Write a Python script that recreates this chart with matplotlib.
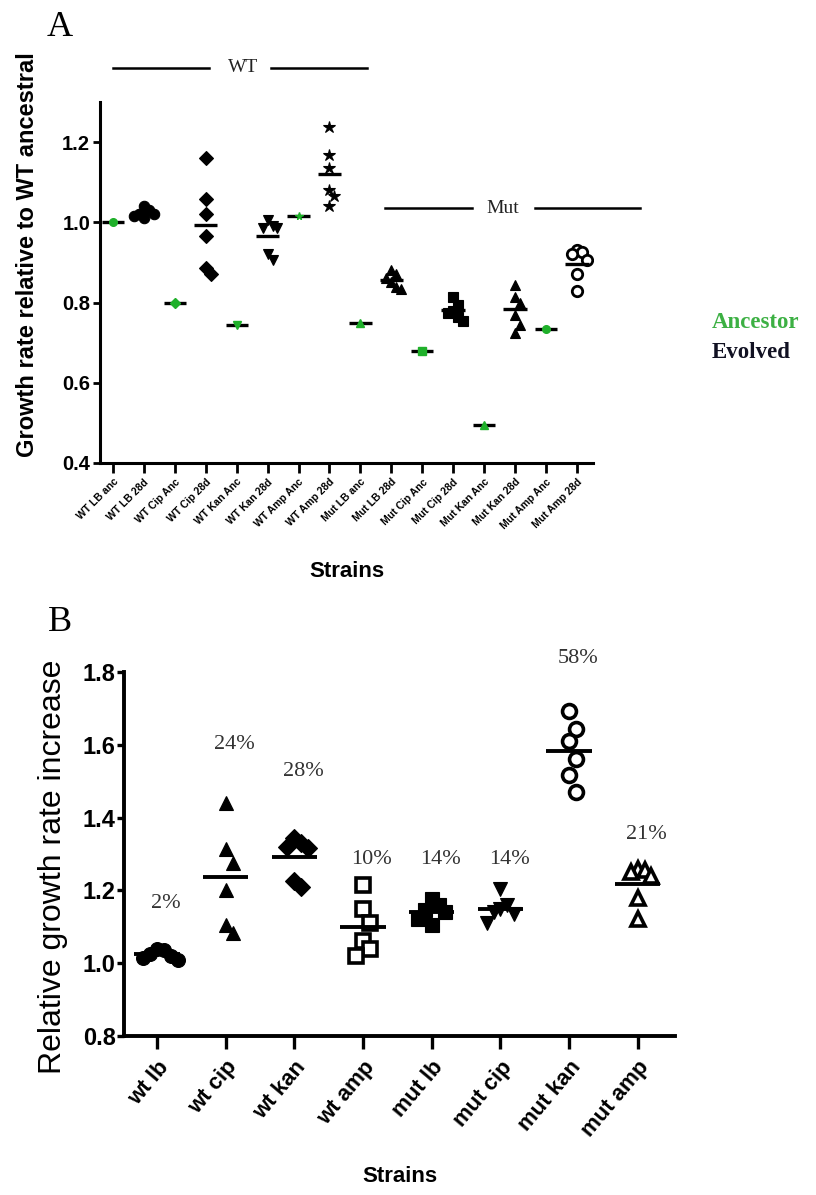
import matplotlib
matplotlib.use("Agg")
import matplotlib.pyplot as plt
import numpy as np

# ---------------- Data: panel A ----------------
a_labels = ["WT LB anc", "WT LB 28d", "WT Cip Anc", "WT Cip 28d", "WT Kan Anc", "WT Kan 28d",
            "WT Amp Anc", "WT Amp 28d", "Mut LB anc", "Mut LB 28d", "Mut Cip Anc", "Mut Cip 28d",
            "Mut Kan Anc", "Mut Kan 28d", "Mut Amp Anc", "Mut Amp 28d"]
wt_lb_anc = [1.00]
wt_lb_28d = [1.04, 1.03, 1.02, 1.02, 1.01, 1.015]
wt_cip_anc = [0.80]
wt_cip_28d = [1.16, 1.057, 1.022, 0.967, 0.885, 0.872]
wt_kan_anc = [0.745]
wt_kan_28d = [1.005, 0.99, 0.985, 0.985, 0.92, 0.905]
wt_amp_anc = [1.017]
wt_amp_28d = [1.238, 1.168, 1.135, 1.08, 1.065, 1.04]
mut_lb_anc = [0.75]
mut_lb_28d = [0.88, 0.87, 0.86, 0.85, 0.84, 0.835]
mut_cip_anc = [0.68]
mut_cip_28d = [0.815, 0.795, 0.78, 0.775, 0.765, 0.755]
mut_kan_anc = [0.495]
mut_kan_28d = [0.845, 0.815, 0.80, 0.77, 0.745, 0.725]
mut_amp_anc = [0.735]
mut_amp_28d = [0.93, 0.925, 0.92, 0.905, 0.87, 0.83]
a_groups = [wt_lb_anc, wt_lb_28d, wt_cip_anc, wt_cip_28d, wt_kan_anc, wt_kan_28d,
            wt_amp_anc, wt_amp_28d, mut_lb_anc, mut_lb_28d, mut_cip_anc, mut_cip_28d,
            mut_kan_anc, mut_kan_28d, mut_amp_anc, mut_amp_28d]
a_ancestor = [True, False] * 8
a_markers = ["o", "o", "D", "D", "v", "v", "*", "*", "^", "^", "s", "s", "^", "^", "o", "o"]
a_open = [False] * 15 + [True]

# ---------------- Data: panel B ----------------
b_labels = ["wt lb", "wt cip", "wt kan", "wt amp", "mut lb", "mut cip", "mut kan", "mut amp"]
b_wt_lb = [1.04, 1.035, 1.025, 1.02, 1.015, 1.01]
b_wt_cip = [1.44, 1.314, 1.276, 1.20, 1.105, 1.083]
b_wt_kan = [1.345, 1.33, 1.32, 1.315, 1.225, 1.21]
b_wt_amp = [1.215, 1.15, 1.11, 1.06, 1.04, 1.02]
b_mut_lb = [1.175, 1.16, 1.145, 1.14, 1.12, 1.105]
b_mut_cip = [1.205, 1.16, 1.15, 1.14, 1.135, 1.11]
b_mut_kan = [1.692, 1.643, 1.61, 1.56, 1.518, 1.469]
b_mut_amp = [1.26, 1.255, 1.25, 1.24, 1.18, 1.12]
b_groups = [b_wt_lb, b_wt_cip, b_wt_kan, b_wt_amp, b_mut_lb, b_mut_cip, b_mut_kan, b_mut_amp]
b_pct = ["2%", "24%", "28%", "10%", "14%", "14%", "58%", "21%"]
b_pct_y = [1.165, 1.60, 1.527, 1.284, 1.284, 1.284, 1.836, 1.353]
b_markers = ["o", "^", "D", "s", "s", "v", "o", "^"]
b_open = [False, False, False, True, False, False, True, True]

GREEN = "#1fb02a"


def swarm(vals, dx, dy):
    placed = []
    order = np.argsort(vals)[::-1]
    res = np.zeros(len(vals))
    for i in order:
        v = vals[i]
        for k in [0, 1, -1, 2, -2, 3, -3]:
            x = k * dx
            if all(((x - px) / dx) ** 2 + ((v - py) / dy) ** 2 >= 1 for px, py in placed):
                break
        placed.append((x, v))
        res[i] = x
    return res


fig = plt.figure(figsize=(8.16, 11.95), dpi=100)
sans = "Liberation Sans"
serif = "Liberation Serif"

# ================= Panel A =================
axA = fig.add_axes([0.1225, 0.6126, 0.6042, 0.302])
for i, vals in enumerate(a_groups):
    vals = np.array(vals, dtype=float)
    m = vals.mean()
    if a_ancestor[i]:
        axA.plot([i - 0.36, i + 0.36], [m, m], color="black", lw=2.4, solid_capstyle="butt", zorder=3)
        axA.plot([i], [m], marker=a_markers[i], color=GREEN, ms=5.5, mec=GREEN, ls="none", zorder=4)
    else:
        off = swarm(vals, 0.16, 0.03)
        fc = "white" if a_open[i] else "black"
        ms = 9 if a_markers[i] == "*" else 7.5
        axA.plot(i + off, vals, marker=a_markers[i], ls="none", ms=ms,
                 mfc=fc, mec="black", mew=2 if a_open[i] else 0.8, zorder=2)
        axA.plot([i - 0.38, i + 0.38], [m, m], color="black", lw=2.4, solid_capstyle="butt", zorder=3)

axA.set_xlim(-0.42, 15.52)
axA.set_ylim(0.4, 1.3)
axA.set_yticks([0.4, 0.6, 0.8, 1.0, 1.2])
axA.set_yticklabels(["0.4", "0.6", "0.8", "1.0", "1.2"], fontfamily=sans, fontweight="bold", fontsize=14.5)
axA.set_xticks(range(len(a_labels)))
axA.set_xticklabels(a_labels, rotation=45, ha="right", va="top", rotation_mode="anchor",
                    fontfamily=sans, fontweight="bold", fontsize=7.5)
for s in ["top", "right"]:
    axA.spines[s].set_visible(False)
for s in ["left", "bottom"]:
    axA.spines[s].set_linewidth(2.2)
axA.tick_params(axis="y", length=5, width=2, pad=2)
axA.tick_params(axis="x", length=7, width=2, pad=3)
axA.set_ylabel("Growth rate relative to WT ancestral", fontfamily=sans, fontweight="bold", fontsize=17)
axA.yaxis.set_label_coords(-0.124, 0.576)
axA.set_xlabel("Strains", fontfamily=sans, fontweight="bold", fontsize=16, labelpad=22)

# group brackets (annotation layout)
brackets = [((0.0, 3.1), (5.1, 8.2), 4.2, 1.385, "WT"),
            ((8.8, 11.6), (13.66, 17.05), 12.6, 1.035, "Mut")]
for seg1, seg2, xt, yv, txt in brackets:
    axA.plot(seg1, [yv, yv], color="black", lw=1.8, clip_on=False)
    axA.plot(seg2, [yv, yv], color="black", lw=1.8, clip_on=False)
    axA.text(xt, yv, txt, ha="center", va="center", fontfamily=serif, fontsize=14, color="#222222",
             clip_on=False)

fig.text(712 / 816, 1 - 322 / 1195, "Ancestor", color="#3cb043", fontfamily=serif, fontweight="bold",
         fontsize=16.5, ha="left", va="center")
fig.text(712 / 816, 1 - 353 / 1195, "Evolved", color="#111122", fontfamily=serif, fontweight="bold",
         fontsize=16.5, ha="left", va="center")
fig.text(60 / 816, 1 - 27 / 1195, "A", fontfamily=serif, fontsize=26, ha="center", va="center")
fig.text(60 / 816, 1 - 623 / 1195, "B", fontfamily=serif, fontsize=26, ha="center", va="center")

# ================= Panel B =================
axB = fig.add_axes([0.152, 0.1331, 0.675, 0.3046])
for i, vals in enumerate(b_groups):
    vals = np.array(vals, dtype=float)
    m = vals.mean()
    off = swarm(vals, 0.1, 0.055)
    fc = "white" if b_open[i] else "black"
    axB.plot(i + off, vals, marker=b_markers[i], ls="none", ms=10 if b_markers[i] != "D" else 9,
             mfc=fc, mec="black", mew=2.6 if b_open[i] else 0.8, zorder=2)
    axB.plot([i - 0.33, i + 0.33], [m, m], color="black", lw=2.8, solid_capstyle="butt", zorder=3)
    axB.text(i + 0.13, b_pct_y[i], b_pct[i], ha="center", va="center", fontfamily=serif, fontsize=16,
             color="#333333")

axB.set_xlim(-0.48, 7.54)
axB.set_ylim(0.8, 1.8)
axB.set_yticks([0.8, 1.0, 1.2, 1.4, 1.6, 1.8])
axB.set_yticklabels(["0.8", "1.0", "1.2", "1.4", "1.6", "1.8"], fontfamily=sans, fontweight="bold",
                    fontsize=17)
axB.set_xticks(range(len(b_labels)))
axB.set_xticklabels(b_labels, rotation=50, ha="right", va="top", rotation_mode="anchor",
                    fontfamily=sans, fontweight="bold", fontsize=16)
for s in ["top", "right"]:
    axB.spines[s].set_visible(False)
for s in ["left", "bottom"]:
    axB.spines[s].set_linewidth(2.8)
axB.tick_params(axis="y", length=5, width=2.4, pad=1)
axB.tick_params(axis="x", length=9, width=2.4, pad=6)
axB.set_ylabel("Relative growth rate increase", fontfamily=sans, fontsize=23)
axB.yaxis.set_label_coords(-0.102, 0.464)
axB.set_xlabel("Strains", fontfamily=sans, fontweight="bold", fontsize=16, labelpad=18)

fig.savefig("out.png", dpi=100)
